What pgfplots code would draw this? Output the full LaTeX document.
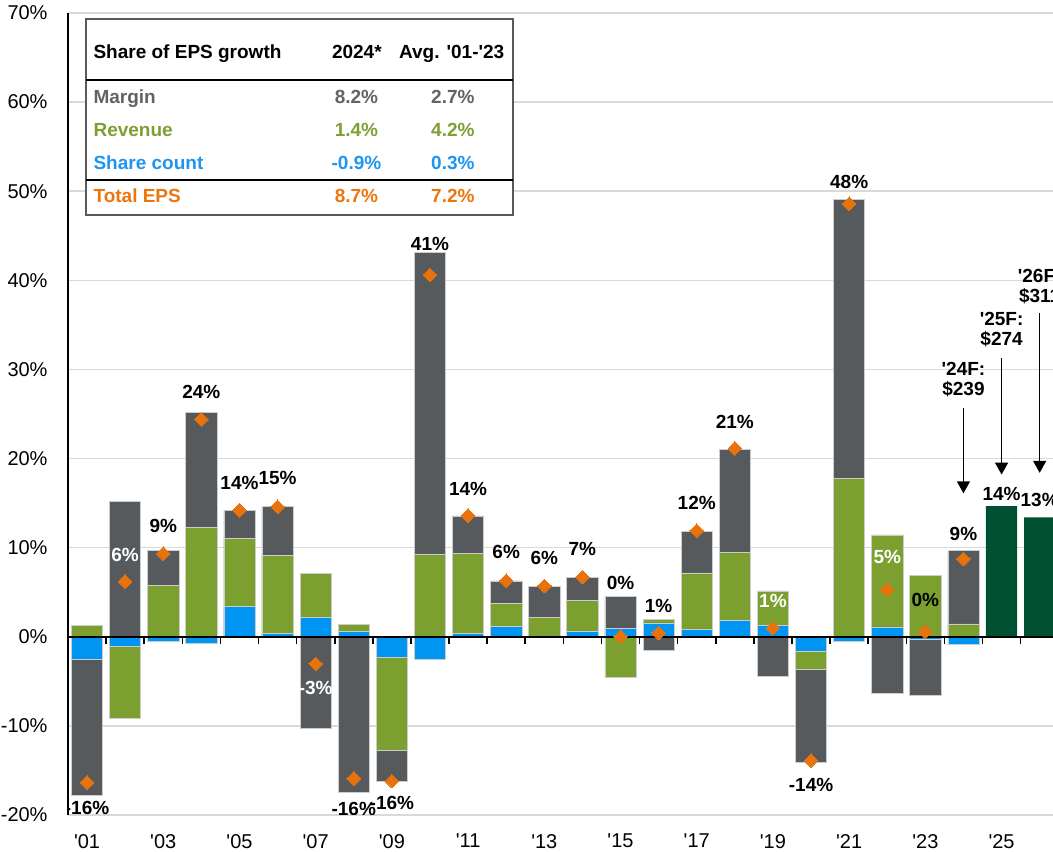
\documentclass[border=0pt]{standalone}
\usepackage{fontspec}
\setmainfont{Liberation Sans}[Ligatures=TeXOff]
\usepackage{pgfplots}
\pgfplotsset{compat=1.18}
\usetikzlibrary{arrows.meta}

\definecolor{epsgray}{RGB}{87,90,92}
\definecolor{epsgreen}{RGB}{124,160,48}
\definecolor{epsblue}{RGB}{0,149,243}
\definecolor{fcgreen}{RGB}{0,80,50}
\definecolor{epsorange}{RGB}{232,114,12}
\definecolor{txtgray}{RGB}{99,99,99}
\definecolor{txtgreen}{RGB}{124,160,51}
\definecolor{txtblue}{RGB}{30,150,240}
\definecolor{txtorange}{RGB}{235,118,14}
\definecolor{gridgray}{RGB}{217,217,217}

\newcommand{\lblfont}{\bfseries\fontsize{9.5}{10.2}\selectfont}
\newcommand{\tabfont}{\bfseries\fontsize{9.5}{11}\selectfont}

\begin{document}
\begin{tikzpicture}
\begin{axis}[
    name=ax,
    scale only axis,
    width=492.5pt, height=401pt,
    xmin=0.5, xmax=26.35,
    ymin=-20, ymax=70,
    axis y line*=left,
    axis x line*=bottom,
    x axis line style={draw=none},
    y axis line style={black, line width=0.8pt},
    tick style={draw=none},
    xtick={1,3,...,25},
    xticklabels={'01,'03,'05,'07,'09,'11,'13,'15,'17,'19,'21,'23,'25},
    ytick={-20,-10,...,70},
    yticklabels={-20\%,-10\%,0\%,10\%,20\%,30\%,40\%,50\%,60\%,70\%},
    ticklabel style={font=\fontsize{10}{12}\selectfont},
    xticklabel style={yshift=-6pt},
    yticklabel style={xshift=-6.7pt},
    ymajorgrids,
    grid style={gridgray, line width=0.75pt},
    every axis plot/.append style={line width=0.3pt},
]
% bars: each value is the outer edge of that segment (segments stack from 0 as blue, green, gray)
\addplot[ybar, bar width=0.82, bar shift=0pt, fill=epsgray, draw=black!20] coordinates {
    (1,-17.78) (2,15.15) (3,9.68) (4,25.17) (5,14.18) (6,14.59) (7,-10.3) (8,-17.4)
    (9,-16.2) (10,43.1) (11,13.56) (12,6.27) (13,5.69) (14,6.62) (15,4.49) (16,-1.56)
    (17,11.78) (18,21.06) (19,-4.42) (20,-14.04) (21,49.1) (22,-6.39) (23,-6.59) (24,9.66)
};
\addplot[ybar, bar width=0.82, bar shift=0pt, fill=epsgreen, draw=black!20] coordinates {
    (1,1.24) (2,-9.15) (3,5.74) (4,12.23) (5,11.03) (6,9.11) (7,7.13) (8,1.38)
    (9,-12.76) (10,9.24) (11,9.38) (12,3.78) (13,2.13) (14,4.09) (15,-4.53) (16,1.96)
    (17,7.16) (18,9.47) (19,5.14) (20,-3.65) (21,17.8) (22,11.44) (23,6.92) (24,1.44)
};
\addplot[ybar, bar width=0.82, bar shift=0pt, fill=epsblue, draw=black!20] coordinates {
    (1,-2.51) (2,-1.09) (3,-0.5) (4,-0.71) (5,3.38) (6,0.41) (7,2.21) (8,0.58)
    (9,-2.31) (10,-2.53) (11,0.36) (12,1.16) (14,0.58) (15,0.93) (16,1.56)
    (17,0.87) (18,1.88) (19,1.25) (20,-1.68) (21,-0.48) (22,1.1) (23,-0.34) (24,-0.87)
};
\addplot[ybar, bar width=0.82, bar shift=0pt, fill=fcgreen, draw=none] coordinates {
    (25,14.66) (26,13.41)
};
% zero line and ticks between the bars
\addplot[black, line width=0.8pt] coordinates {(0.5,0) (26.35,0)};
\addplot[ycomb, black, line width=0.8pt, mark=none] coordinates {
    (1.5,-0.8) (2.5,-0.8) (3.5,-0.8) (4.5,-0.8) (5.5,-0.8) (6.5,-0.8) (7.5,-0.8) (8.5,-0.8)
    (9.5,-0.8) (10.5,-0.8) (11.5,-0.8) (12.5,-0.8) (13.5,-0.8) (14.5,-0.8) (15.5,-0.8) (16.5,-0.8)
    (17.5,-0.8) (18.5,-0.8) (19.5,-0.8) (20.5,-0.8) (21.5,-0.8) (22.5,-0.8) (23.5,-0.8) (24.5,-0.8)
    (25.5,-0.8)
};
% total EPS growth
\addplot[epsorange, only marks, mark=square*, mark size=2.4pt,
    mark options={rotate=45, fill=epsorange, draw=epsorange, line width=0pt}] coordinates {
    (1,-16.35) (2,6.19) (3,9.34) (4,24.4) (5,14.2) (6,14.6) (7,-3.04) (8,-15.9)
    (9,-16.2) (10,40.6) (11,13.6) (12,6.3) (13,5.7) (14,6.7) (15,0.04) (16,0.44)
    (17,11.9) (18,21.15) (19,0.96) (20,-13.9) (21,48.6) (22,5.29) (23,0.58) (24,8.75)
};
% forecast arrows
\addplot[black, line width=0.75pt, -{Triangle[width=6.5pt,length=6pt]}] coordinates {(24,25.7) (24,16.1)};
\addplot[black, line width=0.75pt, -{Triangle[width=6.5pt,length=6pt]}] coordinates {(25,31.3) (25,18.2)};
\addplot[black, line width=0.75pt, -{Triangle[width=6.5pt,length=6pt]}] coordinates {(26,36.3) (26,18.4)};
\node[font=\lblfont, align=center] at (axis cs:24,28.85) {'24F:\\\$239};
\node[font=\lblfont, align=center] at (axis cs:25,34.5) {'25F:\\\$274};
\node[font=\lblfont, align=center] at (axis cs:26,39.3) {'26F:\\\$311};
% data labels
\node[font=\lblfont] at (axis cs:1,-19.2) {-16\%};
\node[font=\lblfont, text=white] at (axis cs:2,9.23) {6\%};
\node[font=\lblfont] at (axis cs:3,12.4) {9\%};
\node[font=\lblfont] at (axis cs:4,27.5) {24\%};
\node[font=\lblfont] at (axis cs:5,17.3) {14\%};
\node[font=\lblfont] at (axis cs:6,17.8) {15\%};
\node[font=\lblfont, text=white] at (axis cs:7,-5.8) {-3\%};
\node[font=\lblfont] at (axis cs:8,-19.3) {-16\%};
\node[font=\lblfont] at (axis cs:9,-18.6) {-16\%};
\node[font=\lblfont] at (axis cs:10,44.1) {41\%};
\node[font=\lblfont] at (axis cs:11,16.6) {14\%};
\node[font=\lblfont] at (axis cs:12,9.5) {6\%};
\node[font=\lblfont] at (axis cs:13,8.8) {6\%};
\node[font=\lblfont] at (axis cs:14,9.8) {7\%};
\node[font=\lblfont] at (axis cs:15,6.0) {0\%};
\node[font=\lblfont] at (axis cs:16,3.5) {1\%};
\node[font=\lblfont] at (axis cs:17,15.0) {12\%};
\node[font=\lblfont] at (axis cs:18,24.1) {21\%};
\node[font=\lblfont, text=white] at (axis cs:19,4.0) {1\%};
\node[font=\lblfont] at (axis cs:20,-16.6) {-14\%};
\node[font=\lblfont] at (axis cs:21,51.0) {48\%};
\node[font=\lblfont, text=white] at (axis cs:22,8.9) {5\%};
\node[font=\lblfont] at (axis cs:23,4.1) {0\%};
\node[font=\lblfont] at (axis cs:24,11.5) {9\%};
\node[font=\lblfont] at (axis cs:25,16.0) {14\%};
\node[font=\lblfont] at (axis cs:26,15.3) {13\%};
% table
\draw[fill=white, draw=black!65, line width=1pt] (axis cs:0.97,69.3) rectangle (axis cs:12.18,47.3);
\draw[black, line width=1pt] (axis cs:0.97,62.5) -- (axis cs:12.18,62.5);
\draw[black, line width=1pt] (axis cs:0.97,51.3) -- (axis cs:12.18,51.3);
\begin{scope}[every node/.style={font=\tabfont, inner sep=0pt}]
\node[anchor=base west] at (axis cs:1.16,64.9) {Share of EPS growth};
\node[anchor=base] at (axis cs:8.08,64.9) {2024*};
\node[anchor=base] at (axis cs:10.57,64.9) {Avg. '01-'23};
\node[anchor=base west, text=txtgray] at (axis cs:1.16,59.8) {Margin};
\node[anchor=base, text=txtgray] at (axis cs:8.07,59.8) {8.2\%};
\node[anchor=base, text=txtgray] at (axis cs:10.6,59.8) {2.7\%};
\node[anchor=base west, text=txtgreen] at (axis cs:1.16,56.1) {Revenue};
\node[anchor=base, text=txtgreen] at (axis cs:8.07,56.1) {1.4\%};
\node[anchor=base, text=txtgreen] at (axis cs:10.6,56.1) {4.2\%};
\node[anchor=base west, text=txtblue] at (axis cs:1.16,52.4) {Share count};
\node[anchor=base, text=txtblue] at (axis cs:8.07,52.4) {-0.9\%};
\node[anchor=base, text=txtblue] at (axis cs:10.6,52.4) {0.3\%};
\node[anchor=base west, text=txtorange] at (axis cs:1.16,48.7) {Total EPS};
\node[anchor=base, text=txtorange] at (axis cs:8.07,48.7) {8.7\%};
\node[anchor=base, text=txtorange] at (axis cs:10.6,48.7) {7.2\%};
\end{scope}
\end{axis}
\pgfresetboundingbox
\path[use as bounding box] ([xshift=-34pt,yshift=-18.5pt]ax.south west) rectangle ([yshift=6.5pt]ax.north east);
\end{tikzpicture}
\end{document}
